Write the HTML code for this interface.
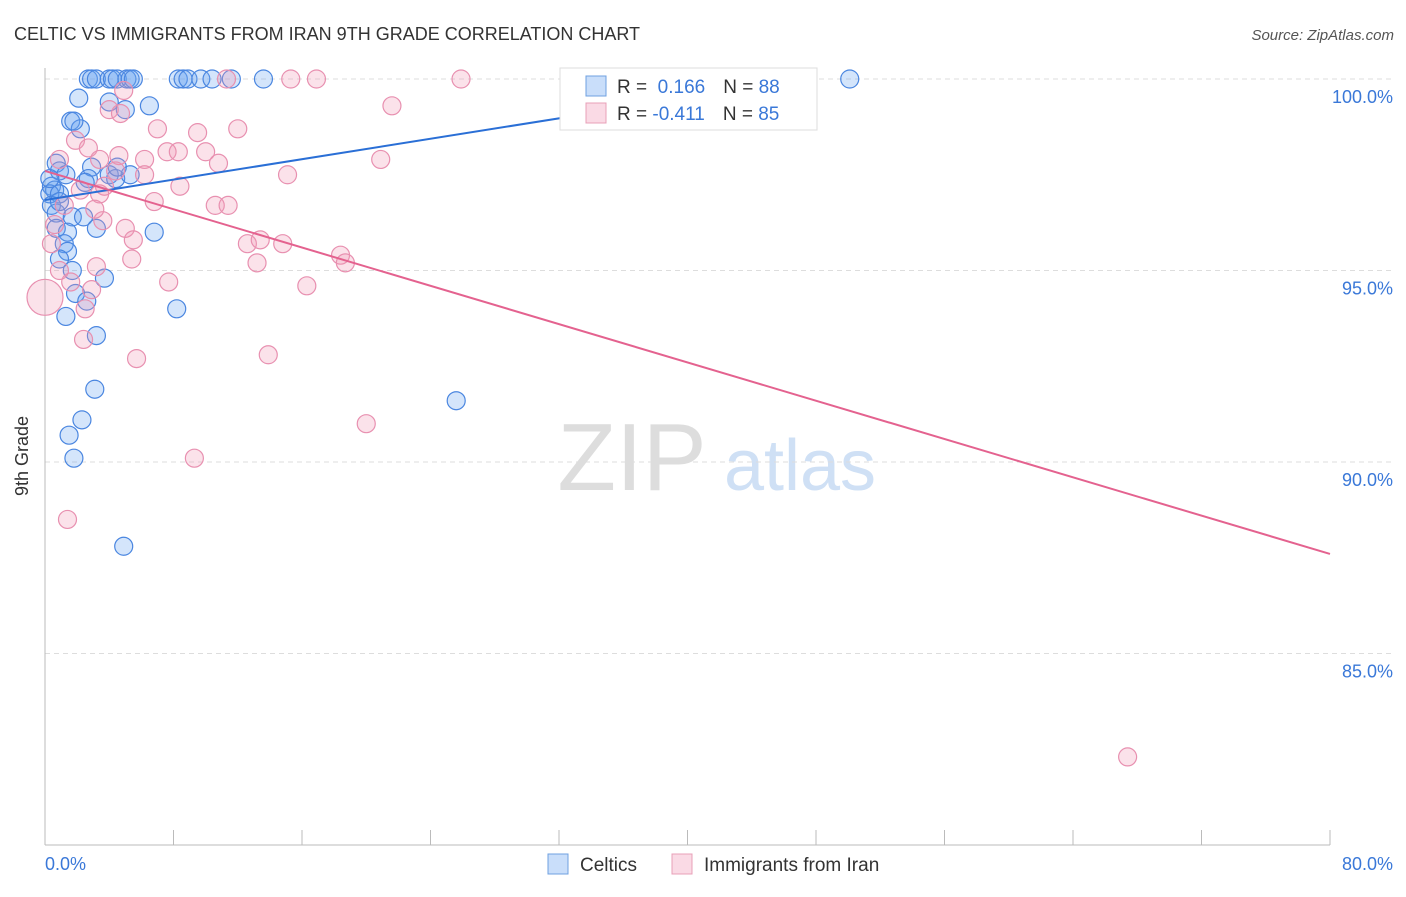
<!DOCTYPE html>
<html><head><meta charset="utf-8"><style>
body{margin:0;background:#fff;font-family:"Liberation Sans",sans-serif;}
svg text{font-family:"Liberation Sans",sans-serif;}
</style></head><body>
<svg width="1406" height="892" xmlns="http://www.w3.org/2000/svg">
<text x="14" y="40" font-size="18" fill="#333">CELTIC VS IMMIGRANTS FROM IRAN 9TH GRADE CORRELATION CHART</text>
<text x="1394" y="40" font-size="15" fill="#555" font-style="italic" text-anchor="end">Source: ZipAtlas.com</text>
<g>
<text x="632" y="490" font-size="96" fill="#ddd" font-family="Liberation Serif" text-anchor="middle">ZIP</text>
<text x="800" y="490" font-size="72" fill="#cfe0f5" text-anchor="middle">atlas</text>
</g>
<g id="grid"></g>
<line x1="45" y1="68" x2="45" y2="845" stroke="#bbb"/>
<line x1="45" y1="845" x2="1330" y2="845" stroke="#bbb"/>
<g id="xticks"></g>
<text x="28" y="456" font-size="18" fill="#333" transform="rotate(-90 28 456)" text-anchor="middle">9th Grade</text>
<text x="45" y="870" font-size="18" fill="#3a78d8">0.0%</text>
<text x="1393" y="870" font-size="18" fill="#3a78d8" text-anchor="end">80.0%</text>
<g id="pts"></g>
<g id="lines"></g>
<g>
<rect x="560" y="68" width="257" height="62" fill="#fff" stroke="#ddd"/>
<rect x="586" y="76" width="20" height="20" fill="rgba(100,160,240,0.35)" stroke="#6fa0e0"/>
<rect x="586" y="103" width="20" height="20" fill="rgba(240,150,180,0.35)" stroke="#e8a0b8"/>
<text x="617" y="93" font-size="19" fill="#333">R = <tspan fill="#3a78d8">&#160;0.166</tspan><tspan dx="18">N = </tspan><tspan fill="#3a78d8">88</tspan></text>
<text x="617" y="120" font-size="19" fill="#333">R = <tspan fill="#3a78d8">-0.411</tspan><tspan dx="18">N = </tspan><tspan fill="#3a78d8">85</tspan></text>
</g>
<g>
<rect x="548" y="854" width="20" height="20" fill="rgba(100,160,240,0.35)" stroke="#6fa0e0"/>
<text x="580" y="871" font-size="19" fill="#333">Celtics</text>
<rect x="672" y="854" width="20" height="20" fill="rgba(240,150,180,0.35)" stroke="#e8a0b8"/>
<text x="704" y="871" font-size="19" fill="#333">Immigrants from Iran</text>
</g>
</svg>
<script>
const yTicks=[100,95,90,85];
const yTickLabels=["100.0%","95.0%","90.0%","85.0%"];
const xTickVals=[0,8,16,24,32,40,48,56,64,72,80];
const blueX=[2.7,2.9,3.2,4.0,4.2,4.5,5.1,5.3,5.5,8.3,8.6,8.9,9.7,10.4,11.6,13.6,50.1,2.1,4.0,6.5,1.6,2.2,1.8,5.0,0.7,2.9,0.9,1.3,2.7,2.5,4.0,4.4,0.4,0.6,0.3,0.9,0.4,0.7,1.7,2.4,3.2,0.7,1.4,1.2,1.4,0.9,1.7,3.7,1.9,2.6,1.3,8.2,3.2,6.8,3.1,2.3,1.5,1.8,4.9,25.6,5.3,4.5,0.3,0.9];
const blueY=[100,100,100,100,100,100,100,100,100,100,100,100,100,100,100,100,100,99.5,99.4,99.3,98.9,98.7,98.9,99.2,97.8,97.7,97.6,97.5,97.4,97.3,97.5,97.4,97.2,97.1,97.0,97.0,96.7,96.5,96.4,96.4,96.1,96.1,96.0,95.7,95.5,95.3,95.0,94.8,94.4,94.2,93.8,94.0,93.3,96.0,91.9,91.1,90.7,90.1,87.8,91.6,97.5,97.7,97.4,96.8];
const pinkX=[15.3,16.9,25.9,11.3,4.9,21.6,7.0,12.0,9.5,10.0,0.9,4.6,6.2,7.6,8.3,20.9,10.8,15.1,8.4,3.4,6.8,10.6,11.4,3.6,5.0,5.5,12.6,13.4,14.8,18.4,18.7,13.2,5.4,3.2,7.7,16.3,1.6,2.9,2.5,2.4,5.7,13.9,20.0,9.3,1.4,67.4,0.4,0.6,4.0,4.7,1.9,2.7,3.4,4.4,2.2,3.7,1.2,3.1,0.9,6.2,0];
const pinkY=[100,100,100,100,99.7,99.3,98.7,98.7,98.6,98.1,97.9,98.0,97.9,98.1,98.1,97.9,97.8,97.5,97.2,97.0,96.8,96.7,96.7,96.3,96.1,95.8,95.7,95.8,95.7,95.4,95.2,95.2,95.3,95.1,94.7,94.6,94.7,94.5,94.0,93.2,92.7,92.8,91.0,90.1,88.5,82.3,95.7,96.2,99.2,99.1,98.4,98.2,97.9,97.6,97.1,97.2,96.7,96.6,95.0,97.5,94.3];
const pinkR=pinkX.map((v,i)=>i===pinkX.length-1?18:9);
const blueTrendX=[0,47.4];const blueTrendY=[96.84,100];
const pinkTrendX=[0,80];const pinkTrendY=[97.6,87.6];
const X=v=>45+v*16.0625, Y=v=>79+(100-v)*38.3;
const NS="http://www.w3.org/2000/svg";
function mk(t,a,p){const e=document.createElementNS(NS,t);for(const k in a)e.setAttribute(k,a[k]);p.appendChild(e);return e;}
const grid=document.getElementById('grid');
yTicks.forEach((t,i)=>{
 const l=mk('line',{x1:45,x2:1395,y1:Y(t),y2:Y(t),stroke:'#ddd','stroke-dasharray':'5,4'},grid);
 
 
 const tx=mk('text',{x:1393,y:Y(t)+24,'font-size':18,fill:'#3a78d8','text-anchor':'end'},grid);
 tx.textContent=yTickLabels[i];
 
 
});
const xt=document.getElementById('xticks');
xTickVals.forEach(v=>{
 const l=mk('line',{x1:X(v),x2:X(v),y1:830,y2:845,stroke:'#bbb'},xt);
 
 
});
const pts=document.getElementById('pts');
blueX.forEach((v,i)=>{
 const c=mk('circle',{cx:X(v),cy:Y(blueY[i]),r:9,fill:'rgba(100,160,240,0.28)',stroke:'#4a86e0','stroke-width':1.2},pts);
 
 
});
pinkX.forEach((v,i)=>{
 const c=mk('circle',{cx:X(v),cy:Y(pinkY[i]),r:pinkR[i],fill:'rgba(240,150,180,0.28)',stroke:'#e890b0','stroke-width':1.2},pts);
 
 
});
const lg=document.getElementById('lines');
const bl=mk('line',{x1:X(blueTrendX[0]),y1:Y(blueTrendY[0]),x2:X(blueTrendX[1]),y2:Y(blueTrendY[1]),stroke:'#2a6fd6','stroke-width':2},lg);


const pl=mk('line',{x1:X(pinkTrendX[0]),y1:Y(pinkTrendY[0]),x2:X(pinkTrendX[1]),y2:Y(pinkTrendY[1]),stroke:'#e4628f','stroke-width':2},lg);


</script>
</body></html>
